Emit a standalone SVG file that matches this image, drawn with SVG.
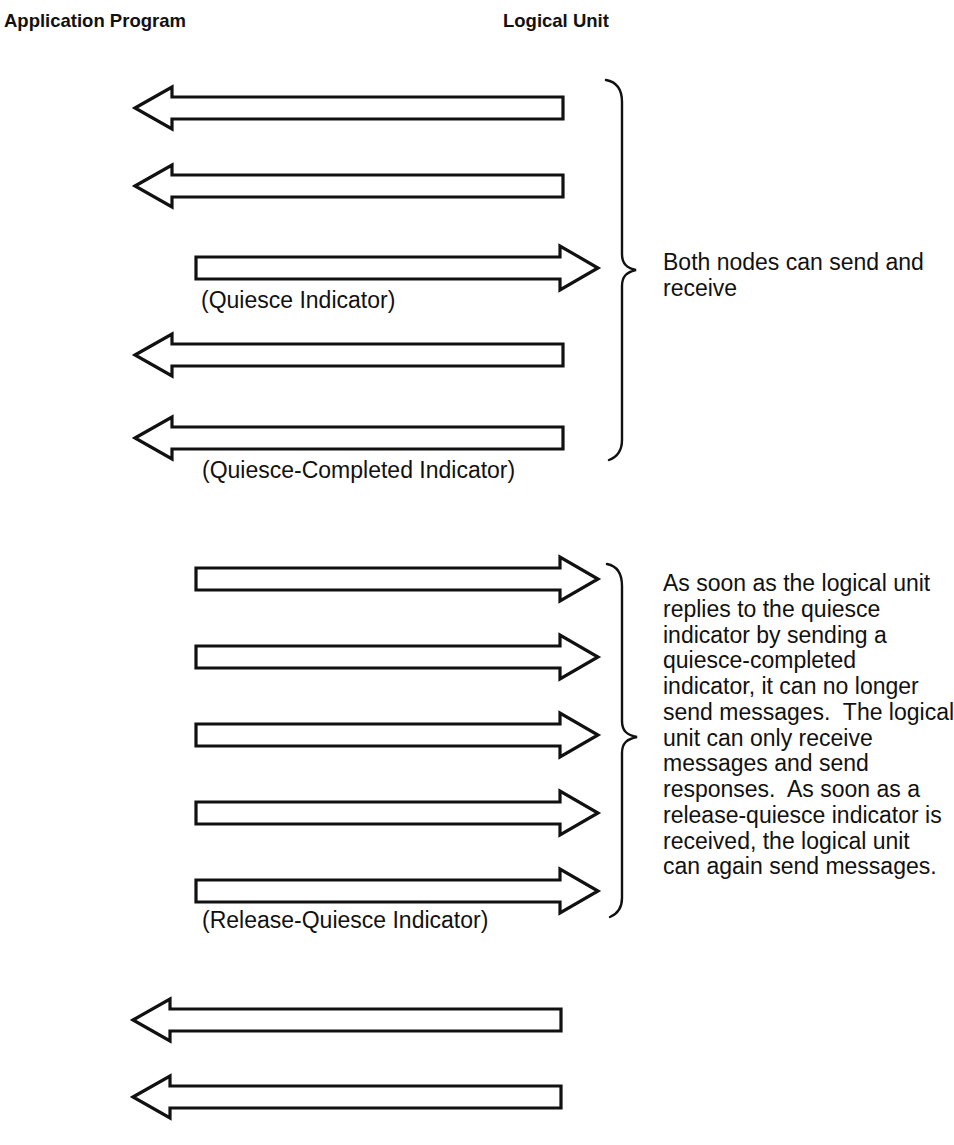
<svg xmlns="http://www.w3.org/2000/svg" xmlns:xlink="http://www.w3.org/1999/xlink" width="954" height="1145" viewBox="0 0 954 1145">
  <style>
    .hdr { font-family: "Liberation Sans", Arial, sans-serif; font-weight: bold; font-size: 18.5px; fill: #111; }
    .txt { font-family: "Liberation Sans", Arial, sans-serif; font-size: 23px; fill: #111; }
    .arrow { fill: #fff; stroke: #111; stroke-width: 3.2; stroke-linejoin: miter; }
    .brace { fill: none; stroke: #111; stroke-width: 2.4; stroke-linecap: round; }
  </style>
  <defs>
    <!-- hollow block arrow pointing left, tip at origin -->
    <path id="arrowLeft" class="arrow" d="M0 0 L37 -21 L37 -11 L428 -11 L428 11 L37 11 L37 21 Z"/>
    <!-- hollow block arrow pointing right, tail at origin -->
    <path id="arrowRight" class="arrow" d="M0 -11 L364 -11 L364 -22 L402 0 L364 22 L364 11 L0 11 Z"/>
  </defs>

  <rect width="954" height="1145" fill="#fff"/>

  <g id="header-application">
    <text class="hdr" x="4" y="27">Application Program</text>
  </g>
  <g id="header-logical-unit">
    <text class="hdr" x="503" y="27">Logical Unit</text>
  </g>

  <g id="connectors">
    <!-- phase 1: both directions -->
    <use xlink:href="#arrowLeft" x="135" y="108"/>
    <use xlink:href="#arrowLeft" x="135" y="186"/>
    <use xlink:href="#arrowRight" x="196" y="268"/>
    <use xlink:href="#arrowLeft" x="135" y="355"/>
    <use xlink:href="#arrowLeft" x="135" y="438"/>
    <!-- phase 2: program to logical unit only -->
    <use xlink:href="#arrowRight" x="196" y="579"/>
    <use xlink:href="#arrowRight" x="196" y="657"/>
    <use xlink:href="#arrowRight" x="196" y="735"/>
    <use xlink:href="#arrowRight" x="196" y="813"/>
    <use xlink:href="#arrowRight" x="196" y="891"/>
    <!-- phase 3: logical unit sends again -->
    <use xlink:href="#arrowLeft" x="133" y="1020"/>
    <use xlink:href="#arrowLeft" x="133" y="1097"/>
  </g>

  <g id="label-quiesce">
    <text class="txt" x="201" y="308">(Quiesce Indicator)</text>
  </g>
  <g id="label-quiesce-completed">
    <text class="txt" x="202" y="478">(Quiesce-Completed Indicator)</text>
  </g>
  <g id="label-release-quiesce">
    <text class="txt" x="202" y="928">(Release-Quiesce Indicator)</text>
  </g>

  <g id="brace-both">
    <path class="brace" d="M606 80 C617 82 622 90 622 102 L622 254 C622 264 627 268 636 270 C627 272 622 276 622 286 L622 440 C622 450 617 457 609 460"/>
    <text class="txt" x="663" y="270">Both nodes can send and</text>
    <text class="txt" x="663" y="296">receive</text>
  </g>

  <g id="brace-quiesced">
    <path class="brace" d="M607 564 C617 566 622 574 622 586 L622 721 C622 731 627 735 637 737 C627 739 622 743 622 753 L622 898 C622 908 617 914 610 917"/>
    <text class="txt">
      <tspan x="663" y="591">As soon as the logical unit</tspan>
      <tspan x="663" y="617">replies to the quiesce</tspan>
      <tspan x="663" y="643">indicator by sending a</tspan>
      <tspan x="663" y="668">quiesce-completed</tspan>
      <tspan x="663" y="694">indicator, it can no longer</tspan>
      <tspan x="663" y="720">send messages.&#160; The logical</tspan>
      <tspan x="663" y="746">unit can only receive</tspan>
      <tspan x="663" y="771">messages and send</tspan>
      <tspan x="663" y="797">responses.&#160; As soon as a</tspan>
      <tspan x="663" y="823">release-quiesce indicator is</tspan>
      <tspan x="663" y="849">received, the logical unit</tspan>
      <tspan x="663" y="874">can again send messages.</tspan>
    </text>
  </g>
</svg>
